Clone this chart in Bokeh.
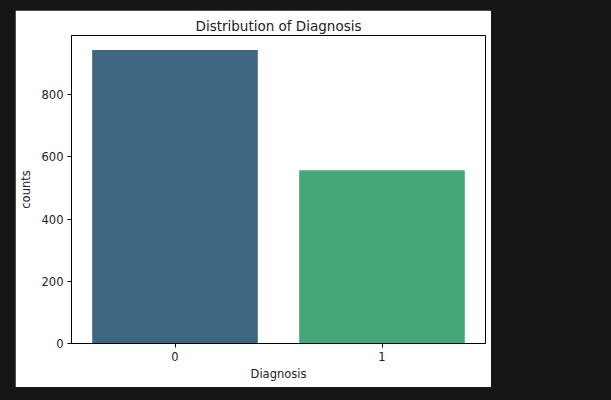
from bokeh.plotting import figure
from bokeh.models import FactorRange, Range1d, FixedTicker
from bokeh.embed import file_html
from bokeh.resources import INLINE

diagnosis = ["0", "1"]
counts = [943, 557]
bar_colors = ["#3d6682", "#45a778"]
y_ticks = [0, 200, 400, 600, 800]

FONT = "DejaVu Sans"

p = figure(x_range=FactorRange(factors=diagnosis, range_padding=0),
           y_range=Range1d(0, 990),
           width=476, height=377,
           output_backend="svg", toolbar_location=None,
           title="Distribution of Diagnosis")
p.margin = (10, 0, 0, 15)
p.min_border_left = 55
p.min_border_right = 6
p.min_border_top = 25
p.min_border_bottom = 44

p.vbar(x=diagnosis, top=counts, width=0.8, color=bar_colors, line_color=None)

p.title.align = "center"
p.title.text_font = FONT
p.title.text_font_size = "13.5px"
p.title.text_font_style = "normal"
p.title.text_color = "#222222"
p.title.standoff = 4

p.xgrid.visible = False
p.ygrid.visible = False
p.outline_line_color = "black"
p.outline_line_width = 1
p.background_fill_color = "white"
p.border_fill_color = "white"

for ax in (p.xaxis[0], p.yaxis[0]):
    ax.axis_line_color = "black"
    ax.major_tick_line_color = "black"
    ax.major_tick_out = 4
    ax.major_tick_in = 0
    ax.minor_tick_line_color = None
    ax.major_label_text_font = FONT
    ax.major_label_text_font_size = "11.5px"
    ax.major_label_text_color = "#222222"
    ax.axis_label_text_font = FONT
    ax.axis_label_text_font_size = "11.5px"
    ax.axis_label_text_font_style = "normal"
    ax.axis_label_text_color = "#222222"

p.xaxis.axis_label = "Diagnosis"
p.yaxis.axis_label = "counts"
p.yaxis.ticker = FixedTicker(ticks=y_ticks)
p.xaxis.major_label_standoff = 4
p.yaxis.major_label_standoff = 4
p.xaxis.axis_label_standoff = 3
p.yaxis.axis_label_standoff = 6

html = file_html(p, INLINE)
html = html.replace("</head>", "<style>body{background:#141517;}</style></head>", 1)
open("out.html", "w").write(html)
